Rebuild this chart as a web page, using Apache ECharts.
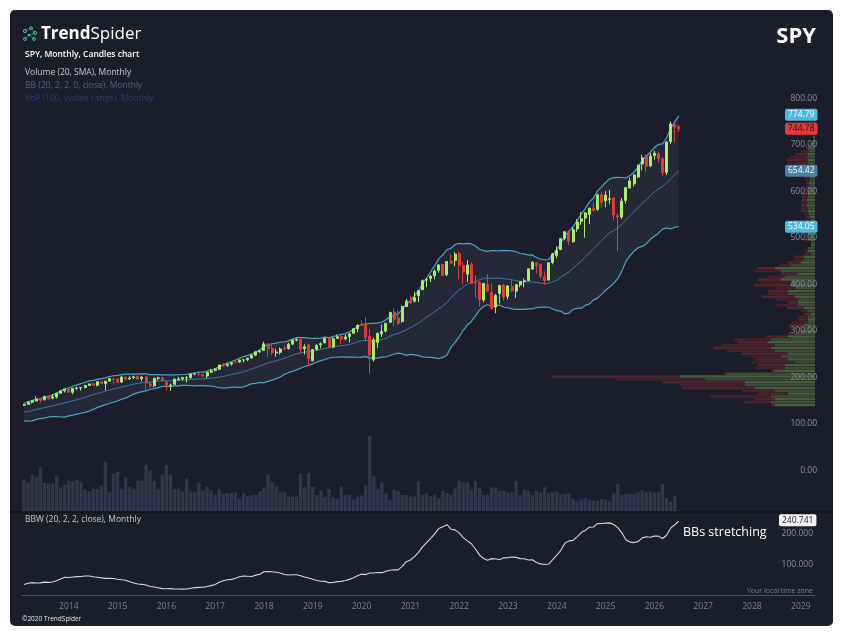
<!DOCTYPE html>
<html>
<head>
<meta charset="utf-8">
<script src="https://cdn.jsdelivr.net/npm/echarts@6/dist/echarts.min.js"></script>
<style>
  html, body { margin: 0; background: #fff; }
  #chart { width: 843px; height: 635px; }
</style>
</head>
<body>
<div id="chart"></div>
<script>
// SPY monthly, 2013-02 .. 2026-07 : [open, high, low, close]
const candles = [
  [150.0,153.3,148.7,151.6],[152.0,157.2,151.5,156.7],[156.6,159.7,153.6,159.7],[159.3,169.1,158.8,163.5],[164.5,165.0,155.7,160.4],[161.8,170.5,160.5,168.7],[169.5,170.9,163.0,163.7],[165.3,173.6,163.2,168.0],[168.0,176.8,164.5,175.8],[176.0,181.8,174.8,181.0],[181.1,184.7,177.3,184.7],
  [183.9,184.1,177.4,178.2],[177.9,186.3,173.7,186.3],[185.9,189.7,183.4,187.0],[187.9,189.2,181.3,188.3],[188.3,192.8,186.3,192.7],[192.6,196.5,192.1,195.7],[196.2,198.3,192.6,193.1],[193.0,201.0,190.6,200.7],[200.6,201.9,195.9,197.0],[196.7,201.8,181.9,201.7],[201.9,207.8,200.8,207.2],[206.4,209.0,196.0,205.5],
  [206.4,206.9,198.5,199.5],[200.1,212.2,197.9,210.7],[210.4,211.6,204.5,206.4],[206.4,212.5,205.4,208.5],[209.4,213.7,206.5,211.1],[212.3,212.9,205.3,205.9],[207.2,212.6,201.6,210.5],[211.1,211.3,182.4,197.7],[196.1,200.3,187.3,191.6],[192.1,208.7,189.1,207.9],[208.3,211.0,203.6,208.7],[209.4,211.0,199.8,203.9],
  [200.5,201.9,181.0,193.7],[192.5,196.7,181.1,193.6],[195.0,206.9,194.5,206.3],[205.0,210.9,203.1,206.3],[206.9,210.7,202.8,209.8],[209.1,212.5,198.7,209.5],[209.5,217.5,207.1,217.1],[217.2,219.6,214.3,217.4],[217.4,219.2,212.4,216.3],[215.8,216.7,210.6,212.6],[212.9,221.8,208.4,220.4],[220.7,228.3,219.8,223.5],
  [225.0,229.7,222.7,227.5],[227.5,237.3,225.9,236.5],[238.4,240.3,232.5,235.7],[235.8,239.5,232.5,238.1],[238.7,242.1,235.4,241.4],[241.9,244.8,240.3,241.8],[242.9,248.0,241.3,247.1],[247.5,248.9,242.2,247.5],[247.9,251.3,244.9,251.2],[251.5,258.4,251.2,257.2],[257.7,265.5,255.6,264.8],[264.8,268.6,262.6,266.9],
  [267.8,286.6,267.4,281.9],[281.1,283.1,252.9,271.7],[272.5,280.4,257.8,263.2],[262.6,271.3,254.7,264.5],[263.9,274.3,259.0,270.9],[272.4,279.5,268.5,271.3],[272.0,284.4,269.6,281.3],[281.6,291.7,279.2,290.3],[289.8,293.9,287.6,290.7],[291.2,292.0,259.9,270.6],[271.6,281.2,259.1,275.7],[280.3,280.4,233.8,249.9],
  [245.9,270.5,244.0,269.9],[270.2,281.3,267.8,278.7],[280.1,285.2,272.4,282.5],[284.3,294.5,283.2,294.0],[294.7,294.9,275.3,275.3],[275.3,296.3,273.7,293.0],[293.8,302.2,293.3,297.4],[297.6,300.8,281.7,292.5],[293.0,302.6,289.3,296.8],[297.7,304.6,284.8,303.3],[304.9,315.5,304.7,314.3],[314.6,323.8,307.1,321.9],
  [323.5,332.9,320.4,321.7],[323.4,339.1,285.5,296.3],[298.2,313.8,218.3,257.8],[247.9,294.9,243.9,290.5],[285.3,306.8,272.9,304.3],[303.6,323.4,296.7,308.4],[309.6,327.2,306.6,326.5],[328.3,351.3,327.7,349.3],[350.4,358.8,319.8,334.9],[337.7,354.0,322.6,326.5],[330.2,364.4,327.2,362.1],[362.3,378.5,362.0,373.9],
  [375.3,385.9,368.3,370.1],[373.7,394.2,371.0,381.4],[385.6,398.0,372.0,396.3],[398.4,420.7,398.2,418.0],[419.4,422.8,404.0,420.0],[422.6,428.8,414.7,428.1],[428.9,441.8,421.0,438.5],[440.3,453.1,435.0,451.6],[452.6,454.1,428.8,429.1],[430.9,459.6,427.5,459.3],[460.3,473.5,454.0,455.6],[461.6,479.0,448.9,475.0],
  [476.3,480.0,420.8,449.9],[450.7,458.1,410.6,436.6],[432.0,462.1,415.1,451.6],[453.3,457.8,411.2,412.0],[414.1,429.7,380.5,412.9],[415.2,417.4,362.2,377.3],[376.6,413.0,371.0,412.0],[409.2,431.7,395.0,395.2],[392.9,411.7,357.0,357.2],[361.0,389.5,348.1,386.2],[390.1,407.7,368.8,407.7],[408.8,410.5,374.8,382.4],
  [384.4,408.2,377.8,406.5],[405.2,418.3,393.6,396.3],[395.4,409.7,380.7,409.4],[408.9,415.9,403.8,415.9],[415.5,422.6,403.7,417.9],[418.1,444.3,416.8,443.3],[442.9,459.4,441.3,457.8],[456.3,457.3,433.0,450.4],[453.2,453.7,422.3,427.5],[426.6,438.1,409.2,418.2],[419.2,456.4,418.7,456.4],[457.0,477.6,453.1,475.3],
  [472.2,491.6,466.4,482.9],[484.6,510.1,483.8,508.1],[508.9,524.6,504.9,523.1],[523.8,524.4,493.9,502.0],[501.4,533.1,499.6,527.4],[529.0,550.3,522.6,544.2],[545.6,565.2,537.5,550.8],[552.6,565.2,510.3,563.7],[560.5,574.7,539.4,573.8],[573.4,586.1,567.9,568.6],[571.3,603.4,567.9,602.6],[603.0,609.1,575.4,586.1],
  [589.4,610.8,575.4,601.8],[592.7,613.2,582.4,594.2],[596.2,597.3,546.9,559.4],[557.5,562.9,481.8,554.5],[554.8,595.5,550.0,589.4],[590.5,619.2,584.3,617.9],[617.4,639.8,616.0,632.1],[626.1,646.5,620.0,645.1],[640.7,667.3,638.9,666.2],[669.0,689.0,655.0,682.0],[684.0,690.0,652.0,664.0],[665.0,692.0,662.0,686.0],
  [687.0,697.0,678.0,692.0],[691.0,695.0,672.0,680.0],[680.0,684.0,643.0,650.0],[651.0,718.0,645.0,716.0],[717.0,760.0,712.0,755.0],[754.0,758.0,716.0,748.0],[749.0,752.0,738.0,744.78]
];

// closes 2011-07 .. 2013-01, only needed to start the 20-month bands
const warmupCloses = [129.33,121.67,113.15,125.50,124.86,125.50,131.32,137.02,140.81,139.87,131.47,136.10,137.71,140.64,143.97,141.35,141.45,142.41,149.70];

// monthly volume, millions of shares
const volumes = [
  1940,1780,2240,2100,2700,1740,1720,1720,2180,1480,1640,
  1880,1840,1940,1800,1340,1240,1380,1380,1580,3000,1180,2300,
  2400,1400,2100,1500,1400,1880,1880,2840,2500,1880,1400,2240,
  2820,2240,1380,1400,1240,2000,1240,1180,1740,1280,1520,1300,
  1040,1380,1080,1140,1140,1180,780,1140,940,1020,1020,1240,
  1480,2240,1780,1540,1180,1180,920,920,920,2300,1500,2340,
  1500,1020,1280,900,1380,880,800,1520,1020,1040,740,900,
  1000,1580,4560,2140,1400,1780,1100,740,1340,1240,1020,1020,
  940,940,1840,1040,1140,940,1040,840,1280,1140,1040,1440,
  1880,1780,1780,1340,1840,1440,1040,1040,1480,1480,1280,1280,
  1180,1180,1880,1000,1340,1280,1000,1280,1180,1500,1140,1220,
  1240,1040,1100,1140,800,620,740,840,740,680,680,780,
  740,640,1100,1700,1020,1080,1100,1080,1180,1300,1220,1220,
  1180,1180,1680,840,640,980,90
];

// volume by price: 100 bins from 147 upwards, up / down volume
const vbpFrom = 147, vbpStep = 6.13;
const vbpUp = [
  40,44,40,44,27,40,60,70,70,110, 135,89,40,30,30,20,27,34,27,40,
  44,40,47,44,27,20,14,11,11,7, 7,7,4,7,11,17,17,17,20,27,
  27,20,24,24,34,30,17,34,40,24, 14,11,11,4,7,7,4,4,6,6,
  7,6,6,5,4,4,5,6,7,7, 8,7,8,7,7,7,6,6,6,5,
  5,4,4,4,6,7,7,8,7,6, 7,4,3,2,2,1,1,1,1,1
];
const vbpDown = [
  3,27,20,62,30,33,73,65,83,90, 128,2,3,30,27,43,33,30,47,48,
  57,53,30,38,23,7,3,13,15,17, 10,10,7,7,17,23,10,23,33,20,
  20,20,37,30,23,17,17,27,18,12, 13,10,10,7,2,0,0,0,5,4,
  3,4,3,0,5,5,4,5,7,7, 6,7,5,6,7,5,4,3,3,4,
  6,0,3,3,8,20,22,18,13,8, 2,2,0,0,0,0,0,0,0,0
];

// last values shown in the axis tags
const bbTags = { upper: 774.79, mid: 654.42, lower: 534.05 };
const bbwTag = 240.741;
const priceTicks = [0, 800, 100];
const bbwTicks = [100, 200];

// month categories run past the data to the right edge
const months = [];
for (let y = 2013, m = 2; months.length < 195; m++) {
  if (m > 12) { m = 1; y++; }
  months.push(y + '-' + String(m).padStart(2, '0'));
}
const isJan = (i, v) => v.endsWith('-01');

// bollinger bands (20, 2)
const allCloses = warmupCloses.concat(candles.map(c => c[3]));
const bbMid = [], bbUp = [], bbLo = [], bbBand = [], bbw = [];
candles.forEach((c, i) => {
  const w = allCloses.slice(i, i + 20);
  const m = w.reduce((a, b) => a + b, 0) / 20;
  const sd = Math.sqrt(w.reduce((a, b) => a + (b - m) * (b - m), 0) / 20);
  bbMid.push(m); bbUp.push(m + 2 * sd); bbLo.push(m - 2 * sd);
  bbBand.push(4 * sd); bbw.push(4 * sd);
});

const vbpData = vbpUp.map((u, k) => [vbpFrom + k * vbpStep, vbpFrom + (k + 1) * vbpStep, u, vbpDown[k]]);

const font = "'Open Sans', 'Noto Sans', sans-serif";
const grey = '#8b90a0';
const clear = 'rgba(0,0,0,0)';
const tag = (v, bg, fg) => ({
  yAxis: v, name: v.toFixed(2),
  label: { backgroundColor: bg, color: fg }
});

const chart = echarts.init(document.getElementById('chart'));
chart.setOption({
  backgroundColor: '#ffffff',
  animation: false,
  textStyle: { fontFamily: font },
  grid: [
    { left: 22, right: 28, top: 103, bottom: 160 },
    { left: 22, right: 28, top: 432, bottom: 123 },
    { left: 22, right: 28, top: 512, bottom: 40 }
  ],
  xAxis: [
    { type: 'category', gridIndex: 0, data: months, show: false },
    { type: 'category', gridIndex: 1, data: months, show: false },
    {
      type: 'category', gridIndex: 2, data: months,
      axisLine: { lineStyle: { color: '#4a5266' } },
      axisTick: { interval: isJan, alignWithLabel: true, length: 4, lineStyle: { color: '#4a5266' } },
      axisLabel: { interval: isJan, formatter: v => v.slice(0, 4), color: '#7c8396', fontSize: 8.5, margin: 7 }
    },
    { type: 'value', gridIndex: 0, inverse: true, min: 0, max: 793, show: false }
  ],
  yAxis: [
    {
      type: 'value', gridIndex: 0, position: 'right', z: 20,
      min: priceTicks[0], max: priceTicks[1], interval: priceTicks[2],
      axisLine: { show: false }, axisTick: { show: false }, splitLine: { show: false },
      axisLabel: { inside: true, margin: -2, verticalAlign: 'bottom', color: grey, fontSize: 8.5,
        formatter: v => v.toFixed(2) }
    },
    { type: 'value', gridIndex: 1, min: 0, max: 4800, show: false },
    {
      type: 'value', gridIndex: 2, position: 'right', min: 5, max: 267, z: 20,
      axisLine: { show: false }, axisTick: { show: false }, splitLine: { show: false },
      axisLabel: { inside: true, margin: 2, customValues: bbwTicks, color: grey, fontSize: 8.5,
        formatter: v => v.toFixed(3) }
    }
  ],
  series: [
    { type: 'line', data: bbLo, stack: 'bb', symbol: 'none', silent: true, z: 1, lineStyle: { opacity: 0 } },
    { type: 'line', data: bbBand, stack: 'bb', symbol: 'none', silent: true, z: 1, lineStyle: { opacity: 0 },
      areaStyle: { color: '#252837', opacity: 1 } },
    {
      type: 'custom', xAxisIndex: 3, yAxisIndex: 0, data: vbpData, silent: true, z: 2,
      renderItem(params, api) {
        const lo = api.value(0), hi = api.value(1), up = api.value(2), dn = api.value(3);
        const a = api.coord([0, hi]), b = api.coord([up, lo]), c = api.coord([up + dn, lo]);
        const h = b[1] - a[1] - 0.4;
        const k = params.dataIndex;
        return { type: 'group', children: [
          { type: 'rect', shape: { x: b[0], y: a[1], width: a[0] - b[0], height: h },
            style: { fill: k % 2 ? '#3d4d35' : '#485c3c' } },
          { type: 'rect', shape: { x: c[0], y: a[1], width: b[0] - c[0], height: h },
            style: { fill: k % 2 ? '#46202a' : '#51242f' } }
        ] };
      }
    },
    { type: 'line', data: bbMid, symbol: 'none', silent: true, z: 4, lineStyle: { color: '#3b7aa0', width: 1 },
      markLine: {
        silent: true, symbol: ['none', 'none'], lineStyle: { color: clear, width: 0 }, z: 30,
        label: { show: true, position: 'end', distance: -30, fontSize: 8.5, padding: [2, 3, 1, 3], borderRadius: 2,
          formatter: '{b}' },
        data: [
          tag(bbTags.upper, '#4cbadc', '#ffffff'),
          tag(candles[candles.length - 1][3], '#e23b3b', '#2a1015'),
          tag(bbTags.mid, '#4b7fa9', '#ffffff'),
          tag(bbTags.lower, '#4cbadc', '#ffffff')
        ]
      }
    },
    { type: 'line', data: bbUp, symbol: 'none', silent: true, z: 4, lineStyle: { color: '#48a6c8', width: 1.2 } },
    { type: 'line', data: bbLo, symbol: 'none', silent: true, z: 4, lineStyle: { color: '#48a6c8', width: 1.2 } },
    {
      type: 'candlestick', barWidth: '62%', z: 6,
      data: candles.map(c => [c[0], c[3], c[2], c[1]]),
      itemStyle: { color: '#a6ee6c', color0: '#e23b3b', borderColor: '#a6ee6c', borderColor0: '#e23b3b', borderWidth: 1 }
    },
    { type: 'bar', xAxisIndex: 1, yAxisIndex: 1, data: volumes, barWidth: '82%', silent: true,
      itemStyle: { color: '#34364a' } },
    { type: 'line', xAxisIndex: 2, yAxisIndex: 2, data: bbw, symbol: 'none', silent: true,
      lineStyle: { color: '#d6d7de', width: 1.1 },
      markLine: {
        silent: true, symbol: ['none', 'none'], lineStyle: { color: clear, width: 0 }, z: 30,
        label: { show: true, position: 'end', distance: -36, fontSize: 8.5, padding: [2, 3, 1, 3], borderRadius: 2,
          backgroundColor: '#f2f2f4', color: '#1c1d2a', formatter: '{b}' },
        data: [{ yAxis: bbwTag, name: bbwTag.toFixed(3) }]
      }
    }
  ],
  graphic: [
    { type: 'rect', z: -100, shape: { x: 10, y: 10, width: 823, height: 616, r: 5 }, style: { fill: '#1c1d2a' } },
    { type: 'line', z: 10, shape: { x1: 10, y1: 512, x2: 833, y2: 512 }, style: { stroke: '#111118', lineWidth: 1.5 } },
    // logo mark
    { type: 'group', z: 10, children: [
      { type: 'line', shape: { x1: 25, y1: 31, x2: 31, y2: 28 }, style: { stroke: '#2f9b80', lineWidth: 0.8 } },
      { type: 'line', shape: { x1: 31, y1: 28, x2: 35, y2: 33 }, style: { stroke: '#2f9b80', lineWidth: 0.8 } },
      { type: 'line', shape: { x1: 35, y1: 33, x2: 29, y2: 35 }, style: { stroke: '#2f9b80', lineWidth: 0.8 } },
      { type: 'line', shape: { x1: 29, y1: 35, x2: 25, y2: 39 }, style: { stroke: '#2f9b80', lineWidth: 0.8 } },
      { type: 'line', shape: { x1: 29, y1: 35, x2: 34, y2: 39 }, style: { stroke: '#2f9b80', lineWidth: 0.8 } },
      { type: 'circle', shape: { cx: 25, cy: 31, r: 1.6 }, style: { fill: 'none', stroke: '#3cc39f', lineWidth: 1 } },
      { type: 'circle', shape: { cx: 31, cy: 28, r: 1.4 }, style: { fill: 'none', stroke: '#3cc39f', lineWidth: 1 } },
      { type: 'circle', shape: { cx: 35, cy: 33, r: 1.6 }, style: { fill: 'none', stroke: '#3cc39f', lineWidth: 1 } },
      { type: 'circle', shape: { cx: 29, cy: 35, r: 1.3 }, style: { fill: '#3cc39f' } },
      { type: 'circle', shape: { cx: 25, cy: 39, r: 1.4 }, style: { fill: 'none', stroke: '#3cc39f', lineWidth: 1 } },
      { type: 'circle', shape: { cx: 34, cy: 39, r: 1.4 }, style: { fill: 'none', stroke: '#3cc39f', lineWidth: 1 } }
    ] },
    { type: 'text', z: 10, x: 41, y: 34, style: {
      text: '{b|Trend}{l|Spider}', textVerticalAlign: 'middle',
      rich: {
        b: { fontFamily: font, fontSize: 17, fontWeight: 'bold', fill: '#ffffff' },
        l: { fontFamily: font, fontSize: 17, fontWeight: 'normal', fill: '#ffffff' }
      } } },
    { type: 'text', z: 10, x: 25, y: 55, style: { text: 'SPY, Monthly, Candles chart', fill: '#ffffff',
      font: '600 8.5px ' + font, textVerticalAlign: 'middle' } },
    { type: 'text', z: 10, x: 25, y: 72.5, style: { text: 'Volume (20, SMA), Monthly', fill: '#c9cad2',
      font: '8.5px ' + font, textVerticalAlign: 'middle' } },
    { type: 'text', z: 10, x: 25, y: 86, style: { text: 'BB (20, 2, 2, 0, close), Monthly', fill: '#3e6a8f',
      font: '8.5px ' + font, textVerticalAlign: 'middle' } },
    { type: 'text', z: 10, x: 25, y: 99, style: { text: 'VbP (100, visible range), Monthly', fill: '#3b3670',
      font: '8.5px ' + font, textVerticalAlign: 'middle' } },
    { type: 'text', z: 10, x: 816, y: 37, style: { text: 'SPY', fill: '#ffffff',
      font: 'bold 22px ' + font, textAlign: 'right', textVerticalAlign: 'middle' } },
    { type: 'text', z: 10, x: 25, y: 520, style: { text: 'BBW (20, 2, 2, close), Monthly', fill: '#c9cad2',
      font: '8.5px ' + font, textVerticalAlign: 'middle' } },
    { type: 'text', z: 10, x: 683, y: 532, style: { text: 'BBs stretching', fill: '#ffffff',
      font: '12.5px ' + font, textVerticalAlign: 'middle' } },
    { type: 'text', z: 10, x: 813, y: 591, style: { text: 'Your local time zone', fill: '#7c8396',
      font: '7px ' + font, textAlign: 'right', textVerticalAlign: 'middle' } },
    { type: 'text', z: 10, x: 22, y: 619, style: { text: '©2020 TrendSpider', fill: '#e8e8ee',
      font: '6.5px ' + font, textVerticalAlign: 'middle' } }
  ]
});
</script>
</body>
</html>
